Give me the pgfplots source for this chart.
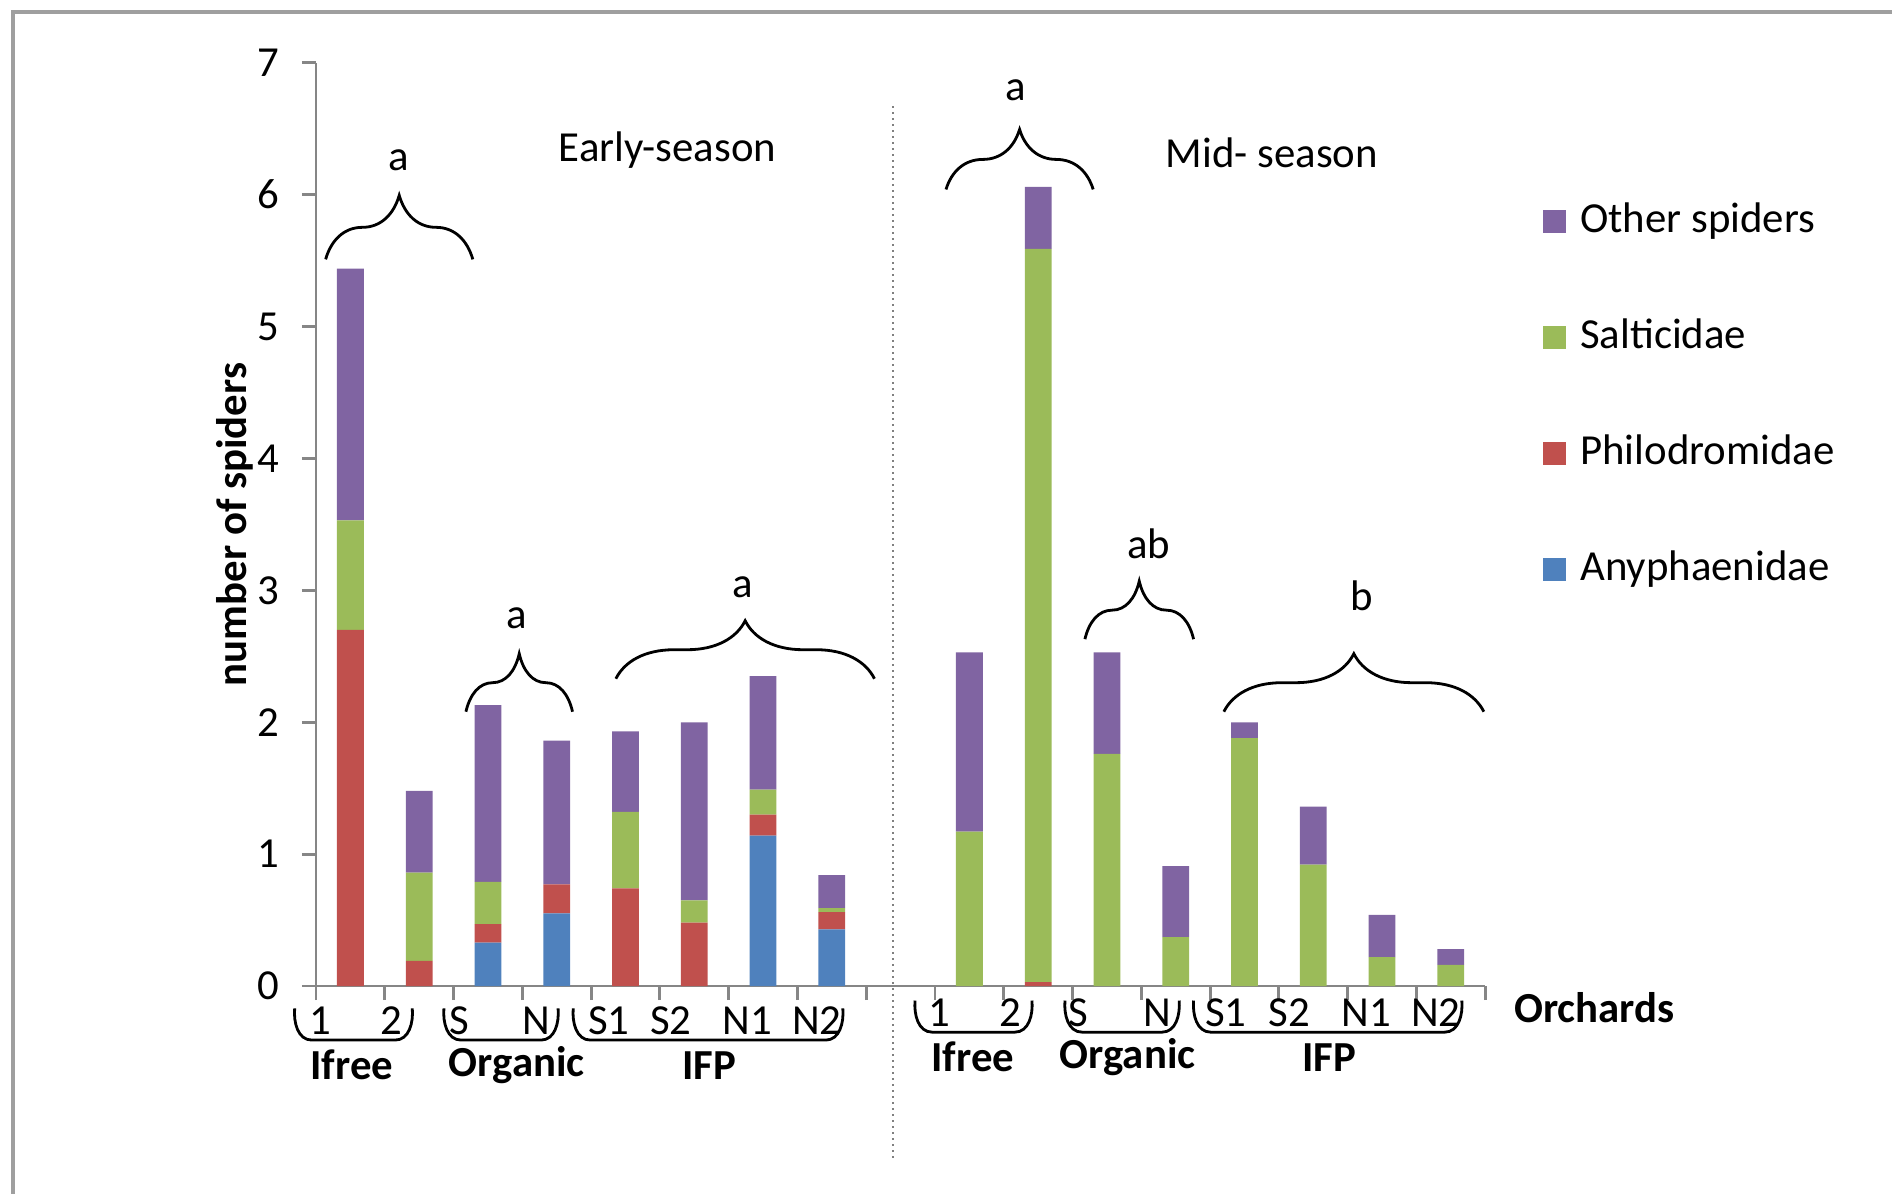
\documentclass[border=0pt]{standalone}
\usepackage{fontspec}
\setmainfont{Carlito}
\usepackage{pgfplots}
\usepackage{pgfplotstable}
\pgfplotsset{compat=1.18}
\usetikzlibrary{decorations.pathreplacing}

\definecolor{anyph}{HTML}{4F81BD}
\definecolor{philo}{HTML}{C0504D}
\definecolor{salti}{HTML}{9BBB59}
\definecolor{other}{HTML}{8064A2}
\definecolor{axgray}{RGB}{134,134,134}

% x: 0-7 early season, 8 empty gap, 9-16 mid season
\pgfplotstableread{
x  anyph philo salti other
0  0     2.70  0.83  1.91
1  0     0.19  0.67  0.62
2  0.33  0.14  0.32  1.34
3  0.55  0.22  0.00  1.09
4  0     0.74  0.58  0.61
5  0     0.48  0.17  1.35
6  1.14  0.16  0.19  0.86
7  0.43  0.13  0.03  0.25
9  0     0     1.17  1.36
10 0     0.03  5.56  0.47
11 0     0     1.76  0.77
12 0     0     0.37  0.54
13 0     0     1.88  0.12
14 0     0     0.92  0.44
15 0     0     0.22  0.32
16 0     0     0.16  0.12
}\spiders

% U-shaped bracket under orchard labels: from, to, top y, bottom y
\newcommand{\ubrace}[4]{%
  \draw[line width=0.7pt] (axis cs:#1,#3) to[out=-95,in=180] (axis cs:#1+0.25,#4)
    -- (axis cs:#2-0.25,#4) to[out=0,in=-85] (axis cs:#2,#3);}

\begin{document}
\fontsize{10.7}{13}\selectfont
\begin{tikzpicture}
\useasboundingbox (-79pt,-51.75pt) rectangle (394pt,246.5pt);
\draw[gray!75, line width=1pt] (-75.75pt,-60pt) -- (-75.75pt,243.5pt) -- (400pt,243.5pt);
\begin{axis}[
    at={(0pt,0pt)}, anchor=south west,
    scale only axis, width=292.3pt, height=230.8pt,
    xmin=-0.5, xmax=16.5, ymin=0, ymax=7,
    ybar stacked, bar width=0.39,
    axis lines*=left,
    axis line style={axgray, line width=0.7pt},
    tick style={axgray, line width=0.7pt},
    tick align=outside, major tick length=3.5pt,
    xtick={-0.5,0.5,...,16.5}, xticklabels={},
    ytick={0,1,...,7},
    yticklabel style={xshift=-2pt},
    /pgf/number format/assume math mode=true,
    ylabel={\bfseries number of spiders},
    ylabel style={at={(axis description cs:-0.069,0.5)}, anchor=center, rotate=0},
    clip=false,
    reverse legend,
    legend image code/.code={\fill[#1] (0pt,-2.9pt) rectangle (5.8pt,2.9pt);},
    legend style={at={(axis cs:17.33,5.965)}, anchor=north west, draw=none, fill=none,
        inner sep=0pt, row sep=18.5pt,
        nodes={text height=8pt, text depth=2.5pt, inner sep=0pt, anchor=west}},
    legend cell align=left,
]
\addplot[fill=anyph, draw=none] table[x=x, y=anyph] {\spiders};
\addplot[fill=philo, draw=none] table[x=x, y=philo] {\spiders};
\addplot[fill=salti, draw=none] table[x=x, y=salti] {\spiders};
\addplot[fill=other, draw=none] table[x=x, y=other] {\spiders};
\legend{\hspace{3.5pt}Anyphaenidae, \hspace{3.5pt}Philodromidae, \hspace{3.5pt}Salticidae, \hspace{3.5pt}Other spiders}

% season separator and headings
\draw[densely dotted, gray, line width=0.5pt] (axis cs:7.89,6.67) -- (axis cs:7.89,-1.31);
\node at (axis cs:4.61,6.34) {Early-season};
\node at (axis cs:13.40,6.32) {Mid- season};
\node[font=\bfseries] at (axis cs:18.09,-0.165) {Orchards};

% significance braces
\draw[line width=0.7pt, decorate, decoration={brace, amplitude=16pt}] (axis cs:-0.36,5.51) -- (axis cs:1.78,5.51);
\draw[line width=0.7pt, decorate, decoration={brace, amplitude=14.5pt}] (axis cs:1.68,2.08) -- (axis cs:3.23,2.08);
\draw[line width=0.7pt, decorate, decoration={brace, amplitude=14.5pt}] (axis cs:3.86,2.33) -- (axis cs:7.62,2.33);
\draw[line width=0.7pt, decorate, decoration={brace, amplitude=15pt}] (axis cs:8.66,6.04) -- (axis cs:10.80,6.04);
\draw[line width=0.7pt, decorate, decoration={brace, amplitude=14.5pt}] (axis cs:10.68,2.63) -- (axis cs:12.26,2.63);
\draw[line width=0.7pt, decorate, decoration={brace, amplitude=14.5pt}] (axis cs:12.70,2.08) -- (axis cs:16.48,2.08);
\node at (axis cs:0.70,6.26) {a};
\node at (axis cs:2.42,2.79) {a};
\node at (axis cs:5.70,3.02) {a};
\node at (axis cs:9.68,6.79) {a};
\node at (axis cs:11.61,3.35) {ab};
\node at (axis cs:14.70,2.96) {b};

% orchard labels, early season
\node at (axis cs:-0.44,-0.26) {1};
\node at (axis cs:0.59,-0.26) {2};
\node at (axis cs:1.59,-0.26) {S};
\node at (axis cs:2.71,-0.26) {N};
\node at (axis cs:3.76,-0.26) {S1};
\node at (axis cs:4.66,-0.26) {S2};
\node at (axis cs:5.77,-0.26) {N1};
\node at (axis cs:6.78,-0.26) {N2};
% orchard labels, mid season
\node at (axis cs:8.57,-0.20) {1};
\node at (axis cs:9.60,-0.20) {2};
\node at (axis cs:10.58,-0.20) {S};
\node at (axis cs:11.73,-0.20) {N};
\node at (axis cs:12.73,-0.20) {S1};
\node at (axis cs:13.65,-0.20) {S2};
\node at (axis cs:14.77,-0.20) {N1};
\node at (axis cs:15.78,-0.20) {N2};

\ubrace{-0.81}{0.90}{-0.17}{-0.41}
\ubrace{1.36}{3.02}{-0.17}{-0.41}
\ubrace{3.24}{7.16}{-0.17}{-0.41}
\ubrace{8.21}{9.91}{-0.11}{-0.35}
\ubrace{10.39}{12.05}{-0.11}{-0.35}
\ubrace{12.26}{16.16}{-0.11}{-0.35}

\node[font=\bfseries] at (axis cs:0.02,-0.60) {Ifree};
\node[font=\bfseries] at (axis cs:2.42,-0.60) {Organic};
\node[font=\bfseries] at (axis cs:5.22,-0.60) {IFP};
\node[font=\bfseries] at (axis cs:9.05,-0.54) {Ifree};
\node[font=\bfseries] at (axis cs:11.30,-0.54) {Organic};
\node[font=\bfseries] at (axis cs:14.23,-0.54) {IFP};
\end{axis}
\end{tikzpicture}
\end{document}
